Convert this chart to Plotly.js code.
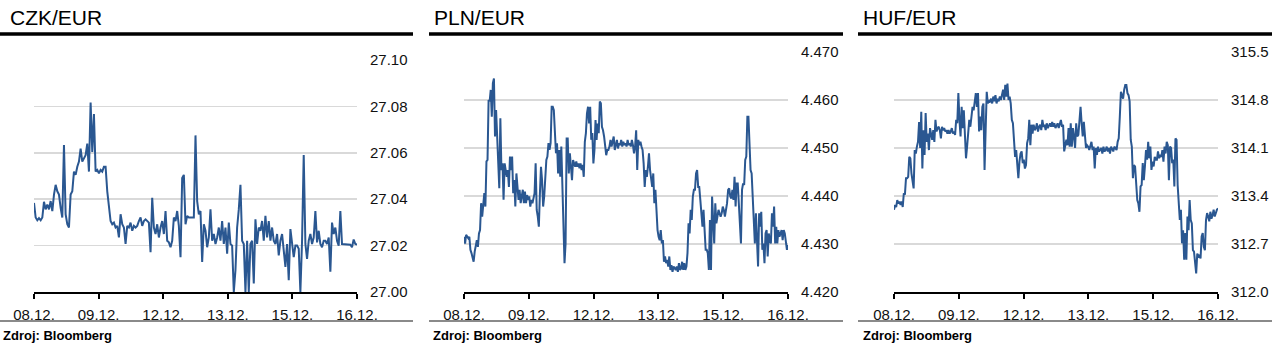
<!DOCTYPE html>
<html>
<head>
<meta charset="utf-8">
<script src="https://cdn.plot.ly/plotly-3.0.1.min.js"></script>
<style>
html,body{margin:0;padding:0;background:#fff;}
#chart{width:1280px;height:355px;}
</style>
</head>
<body>
<div id="chart"></div>
<script>
// ---- data ----
const panelTitles = ["CZK/EUR", "PLN/EUR", "HUF/EUR"];
const sourceText = "Zdroj: Bloomberg";
const dateLabels = ["08.12.", "09.12.", "12.12.", "13.12.", "15.12.", "16.12."];

const czkValues = [
27.0384,27.0321,27.0309,27.0318,27.0309,27.0321,27.0389,27.0356,27.0377,27.0356,
27.0392,27.0349,27.0420,27.0462,27.0434,27.0420,27.0363,27.0321,27.0633,27.0335,
27.0292,27.0278,27.0420,27.0434,27.0519,27.0505,27.0540,27.0562,27.0618,27.0562,
27.0576,27.0590,27.0640,27.0519,27.0817,27.0604,27.0767,27.0519,27.0526,27.0512,
27.0526,27.0519,27.0540,27.0540,27.0434,27.0363,27.0306,27.0292,27.0299,27.0278,
27.0285,27.0235,27.0335,27.0292,27.0278,27.0207,27.0285,27.0278,27.0299,27.0264,
27.0285,27.0278,27.0285,27.0306,27.0321,27.0285,27.0306,27.0313,27.0306,27.0299,
27.0172,27.0406,27.0278,27.0250,27.0292,27.0235,27.0278,27.0306,27.0250,27.0349,
27.0221,27.0214,27.0193,27.0221,27.0321,27.0306,27.0349,27.0285,27.0150,27.0491,
27.0505,27.0292,27.0328,27.0321,27.0321,27.0321,27.0321,27.0675,27.0392,27.0335,
27.0349,27.0129,27.0292,27.0264,27.0193,27.0235,27.0356,27.0221,27.0250,27.0207,
27.0235,27.0278,27.0221,27.0306,27.0207,27.0278,27.0165,27.0299,27.0207,27.0200,
27.0000,27.0094,27.0278,27.0356,27.0462,27.0221,27.0207,27.0000,27.0221,27.0000,
27.0207,27.0221,27.0037,27.0313,27.0207,27.0278,27.0264,27.0306,27.0221,27.0328,
27.0235,27.0306,27.0221,27.0278,27.0221,27.0207,27.0250,27.0158,27.0221,27.0250,
27.0186,27.0108,27.0207,27.0051,27.0271,27.0207,27.0150,27.0200,27.0200,27.0186,
27.0000,27.0221,27.0590,27.0207,27.0143,27.0221,27.0250,27.0207,27.0235,27.0349,
27.0214,27.0264,27.0207,27.0193,27.0221,27.0221,27.0207,27.0235,27.0087,27.0299,
27.0250,27.0278,27.0221,27.0200,27.0349,27.0207,27.0207,27.0207,27.0207,27.0207,
27.0204,27.0193,27.0226,27.0207,27.0204
];

const plnValues = [
4.4315,4.4301,4.4319,4.4315,4.4312,4.4315,4.4288,4.4281,4.4270,4.4263,
4.4284,4.4294,4.4308,4.4294,4.4322,4.4329,4.4385,4.4357,4.4378,4.4406,
4.4378,4.4472,4.4475,4.4600,4.4597,4.4621,4.4565,4.4635,4.4645,4.4524,
4.4579,4.4524,4.4475,4.4416,4.4562,4.4454,4.4468,4.4392,4.4468,4.4447,
4.4440,4.4454,4.4419,4.4482,4.4454,4.4482,4.4406,4.4433,4.4378,4.4447,
4.4419,4.4392,4.4413,4.4385,4.4399,4.4413,4.4385,4.4409,4.4385,4.4402,
4.4392,4.4399,4.4378,4.4392,4.4385,4.4399,4.4406,4.4468,4.4371,4.4357,
4.4336,4.4406,4.4461,4.4433,4.4378,4.4399,4.4433,4.4475,4.4482,4.4510,
4.4496,4.4510,4.4586,4.4586,4.4579,4.4537,4.4489,4.4510,4.4447,4.4496,
4.4440,4.4503,4.4426,4.4315,4.4260,4.4301,4.4520,4.4520,4.4447,4.4489,
4.4468,4.4433,4.4475,4.4468,4.4461,4.4472,4.4461,4.4468,4.4458,4.4468,
4.4454,4.4465,4.4440,4.4513,4.4531,4.4572,4.4586,4.4551,4.4586,4.4517,
4.4531,4.4468,4.4496,4.4558,4.4517,4.4551,4.4531,4.4597,4.4593,4.4544,
4.4537,4.4524,4.4496,4.4485,4.4496,4.4496,4.4503,4.4517,4.4503,4.4513,
4.4524,4.4496,4.4506,4.4517,4.4499,4.4510,4.4506,4.4517,4.4503,4.4513,
4.4506,4.4510,4.4503,4.4517,4.4506,4.4510,4.4503,4.4517,4.4506,4.4489,
4.4503,4.4537,4.4454,4.4517,4.4506,4.4513,4.4503,4.4496,4.4468,4.4419,
4.4454,4.4440,4.4461,4.4489,4.4454,4.4433,4.4419,4.4447,4.4385,4.4413,
4.4357,4.4329,4.4315,4.4308,4.4329,4.4301,4.4308,4.4263,4.4274,4.4260,
4.4267,4.4253,4.4274,4.4246,4.4256,4.4242,4.4253,4.4249,4.4246,4.4253,
4.4242,4.4260,4.4246,4.4249,4.4263,4.4246,4.4260,4.4246,4.4253,4.4281,
4.4343,4.4322,4.4371,4.4350,4.4399,4.4413,4.4413,4.4447,4.4454,4.4419,
4.4419,4.4392,4.4357,4.4336,4.4371,4.4315,4.4288,4.4288,4.4281,4.4246,
4.4350,4.4246,4.4399,4.4350,4.4301,4.4385,4.4343,4.4357,4.4371,4.4364,
4.4357,4.4364,4.4378,4.4371,4.4357,4.4371,4.4385,4.4413,4.4416,4.4399,
4.4395,4.4413,4.4392,4.4440,4.4378,4.4426,4.4426,4.4385,4.4350,4.4301,
4.4413,4.4426,4.4423,4.4475,4.4482,4.4565,4.4565,4.4482,4.4454,4.4447,
4.4399,4.4343,4.4301,4.4364,4.4288,4.4253,4.4364,4.4336,4.4367,4.4288,
4.4301,4.4260,4.4322,4.4329,4.4274,4.4322,4.4308,4.4301,4.4364,4.4336,
4.4378,4.4301,4.4336,4.4301,4.4329,4.4315,4.4322,4.4329,4.4308,4.4329,
4.4322,4.4301,4.4288,4.4298
];

const hufValues = [
313.20,313.27,313.24,313.34,313.29,313.32,313.27,313.32,313.24,313.44,
313.42,313.66,313.66,313.68,313.97,313.95,313.73,313.59,313.51,314.07,
314.02,314.12,314.19,314.48,314.10,314.63,313.80,314.36,314.00,314.61,
314.19,314.31,314.07,314.39,314.29,314.22,314.36,314.19,314.51,314.34,
314.39,314.41,314.36,314.24,314.41,314.36,314.39,314.34,314.36,314.31,
314.36,314.31,314.34,314.39,314.31,314.34,314.29,314.51,314.46,314.90,
314.51,314.27,314.70,314.39,314.65,314.31,313.95,314.12,314.36,314.51,
314.41,314.61,314.70,314.65,314.78,314.90,314.70,314.90,314.34,314.56,
314.36,314.70,314.75,313.78,314.36,314.92,314.75,314.80,314.78,314.82,
314.75,314.85,314.78,314.87,314.75,314.82,314.78,314.85,314.80,314.87,
314.95,314.80,315.02,314.85,315.04,314.80,314.85,314.75,314.51,314.46,
314.19,313.97,314.07,313.83,313.66,313.90,314.02,314.05,313.88,313.93,
313.80,313.85,314.17,314.24,314.51,314.14,314.44,314.31,314.44,314.36,
314.39,314.46,314.34,314.41,314.44,314.36,314.51,314.41,314.44,314.36,
314.46,314.39,314.44,314.46,314.41,314.48,314.41,314.46,314.39,314.44,
314.46,314.39,314.44,314.51,314.41,314.44,314.05,314.12,314.22,314.14,
314.39,314.12,314.46,314.12,314.39,314.27,314.10,314.46,314.27,314.29,
314.58,314.70,314.46,314.27,314.48,314.22,314.10,314.14,314.12,314.07,
314.14,314.19,314.07,314.12,313.80,314.10,314.00,314.12,314.05,314.07,
314.10,314.02,314.12,314.05,314.07,314.12,314.05,314.10,314.02,314.12,
314.07,314.05,314.12,314.10,314.07,314.19,314.24,314.56,314.92,314.87,
314.82,314.95,315.02,315.02,314.90,314.87,314.78,314.22,314.12,313.66,
313.85,313.83,313.63,313.34,313.29,313.17,313.54,313.56,313.88,313.63,
313.83,314.07,313.93,314.19,313.95,314.12,313.78,313.90,313.83,313.97,
313.93,313.93,314.05,313.95,314.00,313.97,314.07,313.90,314.12,314.02,
314.19,314.14,313.63,314.12,314.10,313.88,313.93,313.54,314.24,314.22,
313.56,313.20,313.05,313.20,312.71,312.90,312.47,312.86,312.47,313.10,
312.90,313.34,313.05,313.00,312.61,312.59,312.42,312.27,312.56,312.52,
312.54,312.49,312.81,312.86,312.66,312.61,313.05,313.15,313.10,313.03,
313.17,313.07,313.12,313.20,313.10,313.17,313.20,313.22
];

const series = [czkValues, plnValues, hufValues];
const yRanges = [[27.00, 27.10], [4.42, 4.47], [312.0, 315.5]];
const yDticks = [0.02, 0.01, 0.7];
const yFormats = [".2f", ".3f", ".1f"];

// ---- layout geometry (pixels) ----
const W = 1280, H = 355;
const px = v => v / W;
const py = v => 1 - v / H;
const plotX = [[34, 357], [464, 788], [894, 1218]];
const plotTop = [60, 52, 52];
const plotBottom = 292;
const panelX = [[0, 413], [429, 843], [858, 1272]];
const titleX = [8, 432, 861];
const sourceX = [1, 431, 861];

const FONT = "Liberation Sans, Arial, Helvetica, sans-serif";
const lineColor = "#2a5791";

const traces = [];
const layout = {
  width: W, height: H,
  margin: {l: 0, r: 0, t: 0, b: 0},
  paper_bgcolor: "#fff", plot_bgcolor: "#fff",
  showlegend: false,
  font: {family: FONT, color: "#111", size: 15},
  shapes: [], annotations: []
};

series.forEach((vals, k) => {
  const sfx = k === 0 ? "" : String(k + 1);
  const xs = vals.map((_, i) => i);
  traces.push({
    type: "scatter", mode: "lines",
    x: xs, y: vals,
    xaxis: "x" + sfx, yaxis: "y" + sfx,
    line: {color: lineColor, width: 2},
    hoverinfo: "skip"
  });
  const n = vals.length - 1;
  layout["xaxis" + sfx] = {
    domain: [px(plotX[k][0]), px(plotX[k][1])],
    anchor: "y" + sfx,
    range: [0, n],
    showgrid: false, zeroline: false,
    showline: true, linecolor: "#000", linewidth: 2,
    ticks: "outside", ticklen: 5, tickwidth: 2, tickcolor: "#000",
    tickmode: "array",
    tickvals: dateLabels.map((_, j) => j * n / (dateLabels.length - 1)),
    ticktext: dateLabels,
    tickfont: {family: FONT, size: 15, color: "#111"},
    ticklabelstandoff: 3,
    fixedrange: true
  };
  layout["yaxis" + sfx] = {
    domain: [py(plotBottom), py(plotTop[k])],
    anchor: "x" + sfx,
    side: "right",
    range: yRanges[k],
    tick0: yRanges[k][0], dtick: yDticks[k],
    tickformat: yFormats[k],
    showgrid: true, gridcolor: "#d9d9d9", gridwidth: 1.6,
    zeroline: false, showline: false, ticks: "",
    tickfont: {family: FONT, size: 15, color: "#111"},
    ticklabelstandoff: 12,
    fixedrange: true
  };
  layout.shapes.push({type: "line", xref: "paper", yref: "paper",
    x0: px(panelX[k][0]), x1: px(panelX[k][1]), y0: py(34), y1: py(34),
    line: {color: "#000", width: 3.5}});
  layout.shapes.push({type: "line", xref: "paper", yref: "paper",
    x0: px(panelX[k][0]), x1: px(panelX[k][1]), y0: py(321), y1: py(321),
    line: {color: "#8a8a8a", width: 2}});
  layout.annotations.push({xref: "paper", yref: "paper",
    x: px(titleX[k]), y: py(17), xanchor: "left", yanchor: "middle",
    text: panelTitles[k], showarrow: false,
    font: {family: FONT, size: 21, color: "#000"}});
  layout.annotations.push({xref: "paper", yref: "paper",
    x: px(sourceX[k]), y: py(335), xanchor: "left", yanchor: "middle",
    text: "<b>" + sourceText + "</b>", showarrow: false,
    font: {family: FONT, size: 13, color: "#000"}});
});

Plotly.newPlot("chart", traces, layout, {staticPlot: true, displayModeBar: false});
</script>
</body>
</html>
